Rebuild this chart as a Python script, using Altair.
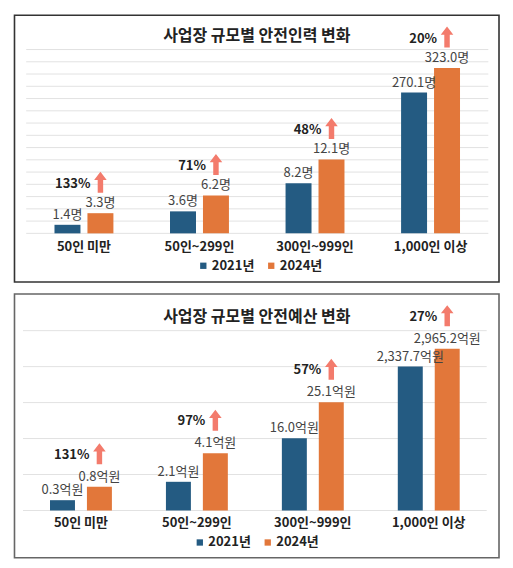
import altair as alt
import pandas as pd

FONT = "Noto Sans CJK KR"

categories = ["50인 미만", "50인~299인", "300인~999인", "1,000인 이상"]
years = ["2021년", "2024년"]
year_colors = ["#245B82", "#E2773A"]

staff_2021 = [1.4, 3.6, 8.2, 270.1]
staff_2024 = [3.3, 6.2, 12.1, 323.0]
staff_pct = ["133%", "71%", "48%", "20%"]

budget_2021 = [0.3, 2.1, 16.0, 2337.7]
budget_2024 = [0.8, 4.1, 25.1, 2965.2]
budget_pct = ["131%", "97%", "57%", "27%"]

# the original charts use a broken (piecewise) value axis
staff_axis_breaks = [0, 12.1, 270.1, 362.6]
staff_axis_pixels = [218.3, 144.3, 77.3, 34.3]
budget_axis_breaks = [0, 0.3, 0.8, 2.1, 4.1, 16.0, 25.1, 2337.7, 2965.2, 3592.7]
budget_axis_pixels = [216.7, 206.4, 193.0, 188.0, 159.4, 144.4, 108.4, 72.7, 54.7, 36.7]

ARROW = "M-0.26,1L-0.26,-0.22L-0.6,-0.22L0,-1L0.6,-0.22L0.26,-0.22L0.26,1Z"


def panel(title, v21, v24, pct, unit, y_dom, y_rng, x_rng, pad_in, off_pad,
          grid_n, width, height, border, title_offset, legend_x, legend_y,
          cat_dy, pct_dx, pct_dy, arrow_dy):
    rows = []
    for c, a, b in zip(categories, v21, v24):
        rows.append({"category": c, "year": years[0], "value": a, "label": f"{a:,.1f}{unit}"})
        rows.append({"category": c, "year": years[1], "value": b, "label": f"{b:,.1f}{unit}"})
    df = pd.DataFrame(rows)
    dfp = pd.DataFrame({"category": categories, "year": years[1], "value": v24, "pct": pct})
    dfc = pd.DataFrame({"category": categories})
    dfg = pd.DataFrame({"g": list(range(grid_n + 1))})

    xs = alt.Scale(domain=categories, range=x_rng, paddingInner=pad_in, paddingOuter=pad_in / 2)
    ys = alt.Scale(domain=y_dom, range=y_rng, nice=False, zero=False)
    x_enc = alt.X("category:N", sort=categories, scale=xs, axis=None)
    xo = alt.XOffset("year:N", scale=alt.Scale(domain=years, paddingInner=off_pad, paddingOuter=0))
    y_enc = alt.Y("value:Q", scale=ys, axis=None)

    grid = alt.Chart(dfg).mark_rule(color="#e2e2e2", strokeWidth=1).encode(
        y=alt.Y("g:Q", scale=alt.Scale(domain=[0, grid_n], range=[y_rng[0], y_rng[-1]], nice=False), axis=None),
        x=alt.value(x_rng[0]), x2=alt.value(x_rng[1]),
    )
    bars = alt.Chart(df).mark_bar().encode(
        x=x_enc, xOffset=xo, y=y_enc,
        color=alt.Color("year:N", scale=alt.Scale(domain=years, range=year_colors),
                        legend=alt.Legend(title=None, orient="none", legendX=legend_x, legendY=legend_y,
                                          direction="horizontal", symbolType="square", symbolSize=40,
                                          symbolStrokeWidth=0, labelFontSize=13, labelFontWeight="bold",
                                          labelColor="#222", labelFont=FONT, columnPadding=10,
                                          labelOffset=2, padding=0)),
    )
    values = alt.Chart(df).mark_text(dy=-10, fontSize=13, color="#444", font=FONT).encode(
        x=x_enc, xOffset=xo, y=y_enc, text="label:N")
    cats = alt.Chart(dfc).mark_text(dy=cat_dy, fontSize=13, fontWeight="bold", color="#222", font=FONT).encode(
        x=x_enc, y=alt.YDatum(0, scale=ys, axis=None), text="category:N")
    pcts = alt.Chart(dfp).mark_text(align="right", dx=pct_dx, dy=pct_dy, fontSize=13, fontWeight="bold",
                                    color="#222", font=FONT).encode(
        x=x_enc, xOffset=xo, y=y_enc, text="pct:N")
    arrows = alt.Chart(dfp).mark_point(shape=ARROW, size=441, filled=True, opacity=1, color="#F37B6C",
                                       strokeWidth=0, yOffset=arrow_dy).encode(
        x=x_enc, xOffset=xo, y=y_enc)

    inner = alt.layer(bars, values, cats, pcts, arrows)
    return alt.layer(grid, inner).resolve_scale(y="independent").properties(
        width=width, height=height,
        title=alt.Title(title, fontSize=16, fontWeight="bold", font=FONT, color="#222",
                        anchor="middle", frame="group", offset=title_offset, baseline="middle"),
        view=alt.ViewBackground(stroke=border, strokeWidth=1.6, fill="white"),
    )


top = panel("사업장 규모별 안전인력 변화", staff_2021, staff_2024, staff_pct, "명",
            staff_axis_breaks, staff_axis_pixels, [11.7, 474.3], 0.49, 0.212,
            15, 485, 267, "#333333", -36.4, 182.5, 244, 14, -10, -29, -31)
bottom = panel("사업장 규모별 안전예산 변화", budget_2021, budget_2024, budget_pct, "억원",
               budget_axis_breaks, budget_axis_pixels, [8.5, 472.7], 0.466, 0.324,
               5, 485, 264, "#666666", -39, 179, 242, 13, -10, -32, -33)

chart = alt.vconcat(top, bottom, spacing=10).resolve_scale(
    x="independent", y="independent", color="independent", xOffset="independent"
).properties(
    padding={"left": 5.5, "top": 6, "right": 5, "bottom": 5},
    background="white",
).configure_view(strokeWidth=0)

chart.save("out.html", embed_options={"renderer": "svg", "actions": False})
